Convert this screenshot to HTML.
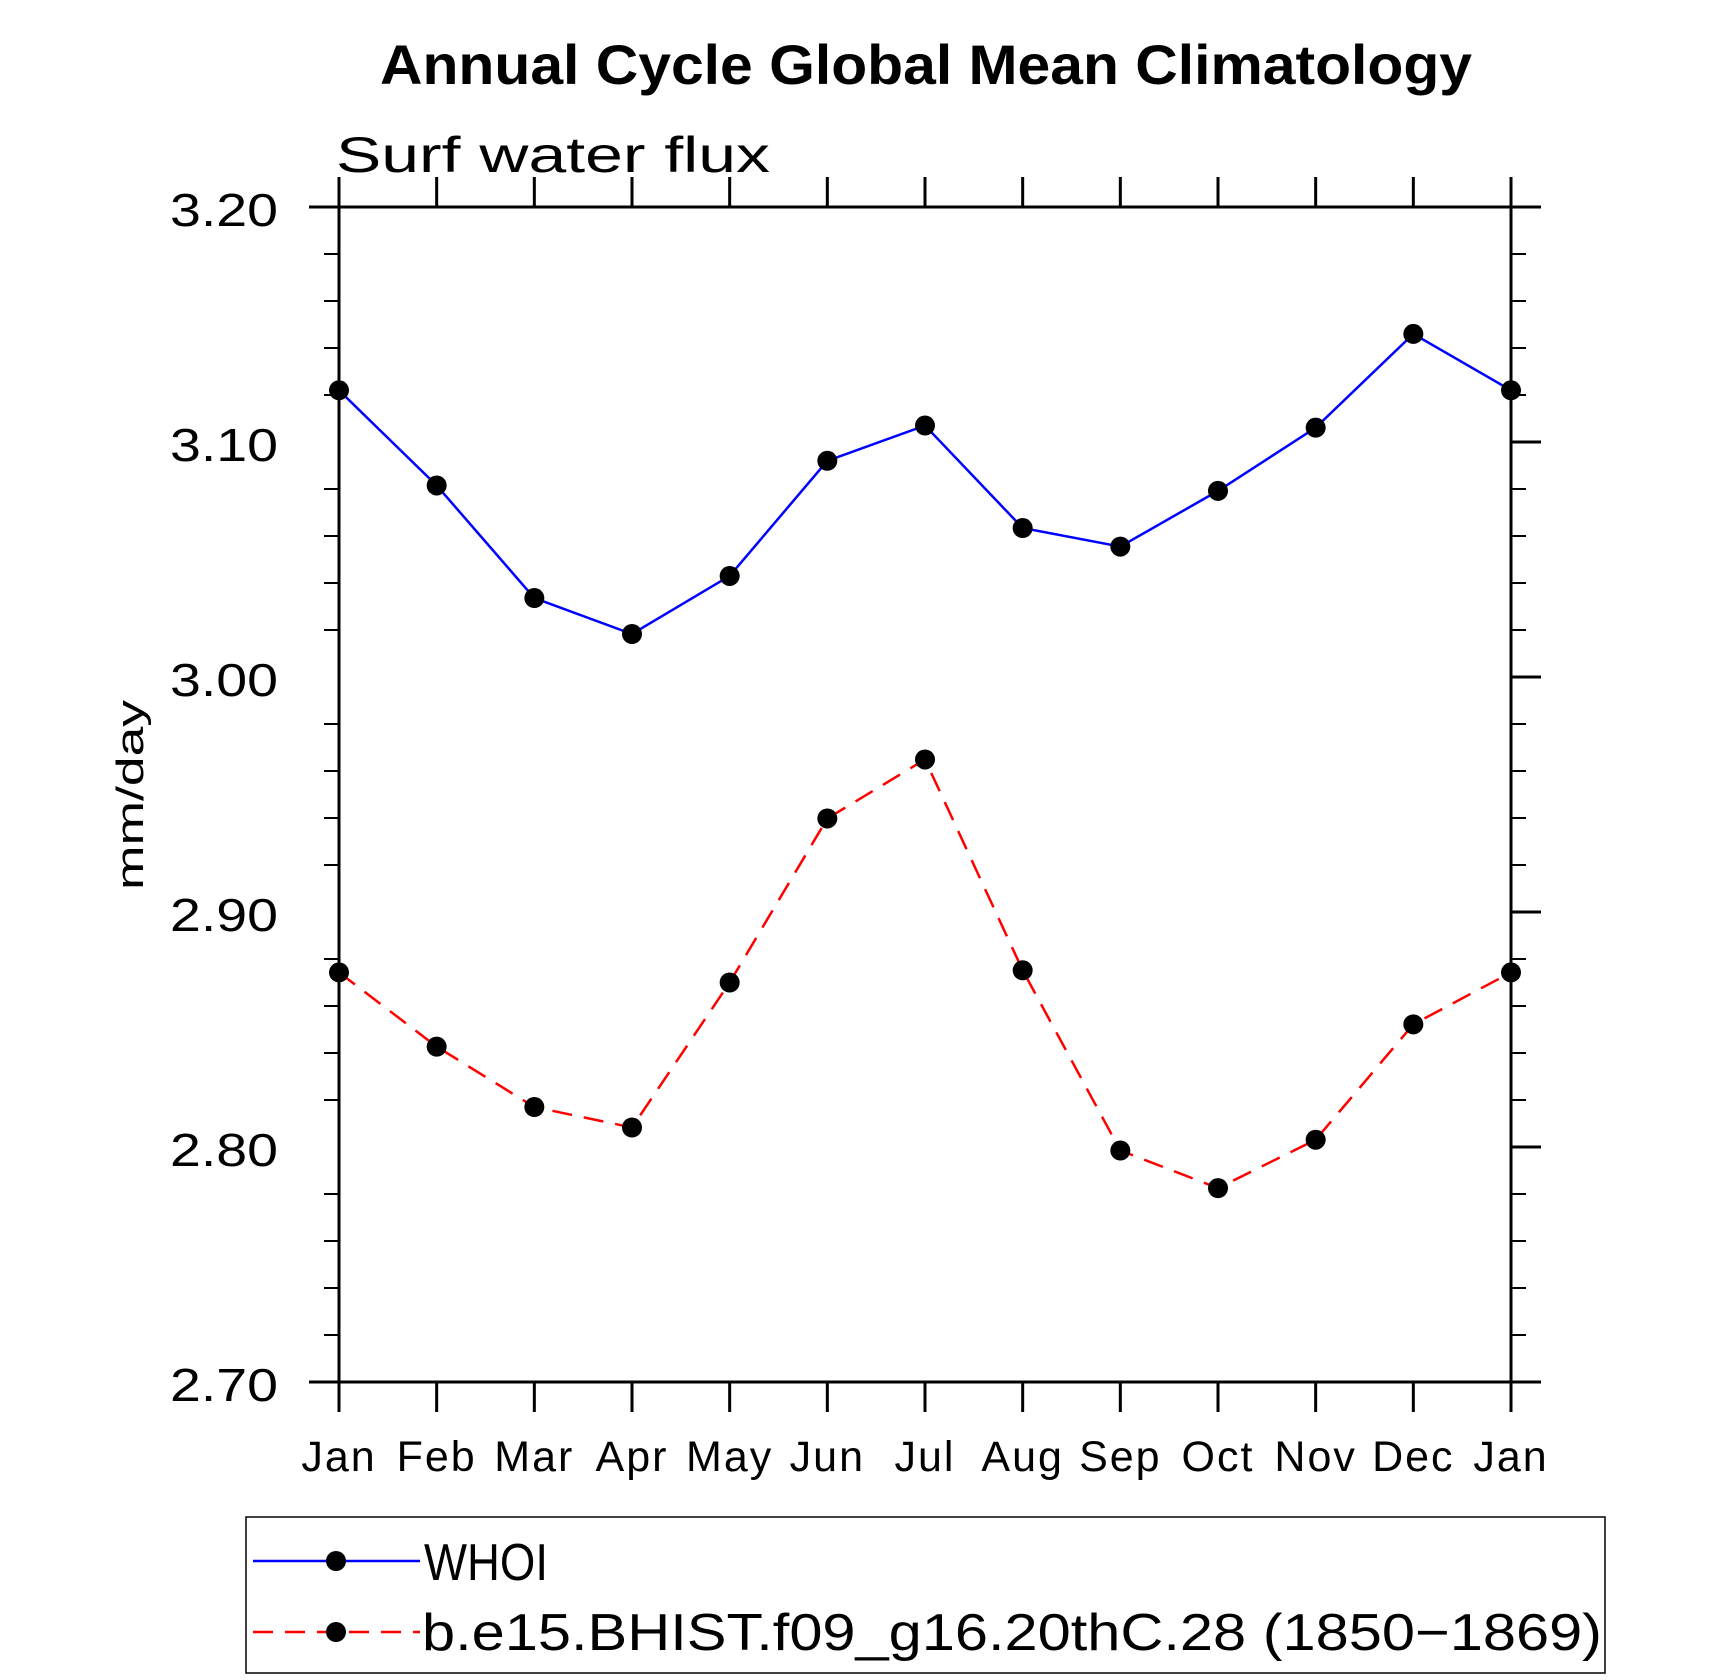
<!DOCTYPE html>
<html><head><meta charset="utf-8"><style>
html,body{margin:0;padding:0;background:#fff;}
svg{display:block;font-family:"Liberation Sans",sans-serif;}
</style></head><body>
<svg id="chart" width="1710" height="1680" viewBox="0 0 1710 1680" xmlns="http://www.w3.org/2000/svg">
<text x="926" y="84" font-size="56" font-weight="bold" text-anchor="middle" textLength="1092" lengthAdjust="spacingAndGlyphs">Annual Cycle Global Mean Climatology</text>
<text x="336" y="172" font-size="50" font-weight="300" textLength="434" lengthAdjust="spacingAndGlyphs">Surf  water  flux</text>
<text transform="translate(143,795) rotate(-90)" font-size="38" text-anchor="middle" textLength="190" lengthAdjust="spacingAndGlyphs">mm/day</text>
<g id="axes"></g>
<g id="series"></g>
<g>
<rect x="246" y="1517" width="1359" height="156" fill="none" stroke="#000" stroke-width="1.5"/>
<line x1="253" y1="1561" x2="420" y2="1561" stroke="#0000ff" stroke-width="2.5"/>
<circle cx="336" cy="1561" r="10"/>
<text x="424" y="1580" font-size="52" textLength="124" lengthAdjust="spacingAndGlyphs">WHOI</text>
<line x1="253" y1="1632" x2="420" y2="1632" stroke="#ff0000" stroke-width="2.5" stroke-dasharray="20,12"/>
<circle cx="336" cy="1632" r="10"/>
<text x="422" y="1650" font-size="52" textLength="1180" lengthAdjust="spacingAndGlyphs">b.e15.BHIST.f09_g16.20thC.28 (1850−1869)</text>
</g>
</svg>
<script>
const months = ["Jan","Feb","Mar","Apr","May","Jun","Jul","Aug","Sep","Oct","Nov","Dec","Jan"];
const whoiValues = [3.122,3.0815,3.0336,3.0183,3.043,3.092,3.107,3.0634,3.0555,3.0792,3.1061,3.146,3.122];
const modelValues = [2.8743,2.8427,2.817,2.8083,2.870,2.9398,2.9649,2.8752,2.7985,2.7825,2.8031,2.8522,2.8743];
const yTicks = [2.70,2.80,2.90,3.00,3.10,3.20];
const yTickLabels = ["2.70","2.80","2.90","3.00","3.10","3.20"];

const NS="http://www.w3.org/2000/svg";
const L=339,R=1511,T=207,B=1382,yMin=2.70,yMax=3.20;
const xs=i=>L+(R-L)*i/(months.length-1);
const ys=v=>B-(v-yMin)/(yMax-yMin)*(B-T);
function mk(tag,attrs,parent){const e=document.createElementNS(NS,tag);for(const k in attrs)e.setAttribute(k,attrs[k]);parent.appendChild(e);return e;}
const axes=document.getElementById('axes');
const ln={stroke:"#000","stroke-width":3};
let e;
e=mk('line',Object.assign({x1:L,y1:T-30,x2:L,y2:B+30},ln),axes);


e=mk('line',Object.assign({x1:R,y1:T-30,x2:R,y2:B+30},ln),axes);


e=mk('line',Object.assign({x1:L-30,y1:T,x2:R+30,y2:T},ln),axes);


e=mk('line',Object.assign({x1:L-30,y1:B,x2:R+30,y2:B},ln),axes);


for(let k=0;k<=25;k++){
  const v=yMin+k*0.02; if(k%5===0) continue;
  const y=ys(v);
  e=mk('line',{x1:L-15,y1:y,x2:L,y2:y,stroke:"#000","stroke-width":2},axes);
  
  
  e=mk('line',{x1:R,y1:y,x2:R+15,y2:y,stroke:"#000","stroke-width":2},axes);
  
  
}
yTicks.forEach((v,i)=>{
  const y=ys(v);
  e=mk('line',Object.assign({x1:R,y1:y,x2:R+30,y2:y},ln),axes);
  
  
  const t=mk('text',{x:278,y:y+19,"font-size":46,"text-anchor":"end",textLength:108,lengthAdjust:"spacingAndGlyphs"},axes);
  t.textContent=yTickLabels[i];
  
  
});
months.forEach((m,i)=>{
  const x=xs(i);
  e=mk('line',Object.assign({x1:x,y1:B,x2:x,y2:B+30},ln),axes);
  
  
  e=mk('line',Object.assign({x1:x,y1:T-30,x2:x,y2:T},ln),axes);
  
  
  const t=mk('text',{x:x,y:1471,"font-size":43,"text-anchor":"middle","letter-spacing":"2"},axes);
  t.textContent=m;
  
  
});
const series=document.getElementById('series');
function draw(vals,color,dash,name){
  const pts=vals.map((v,i)=>xs(i)+','+ys(v)).join(' ');
  const a={points:pts,fill:"none",stroke:color,"stroke-width":2.5};
  if(dash)a["stroke-dasharray"]=dash;
  const p=mk('polyline',a,series);
  
  
  vals.forEach((v,i)=>{
    const c=mk('circle',{cx:xs(i),cy:ys(v),r:10,fill:"#000"},series);
    
    
  });
}
draw(whoiValues,"#0000ff",null,'whoi');
draw(modelValues,"#ff0000","20,12",'model');
</script>
</body></html>
